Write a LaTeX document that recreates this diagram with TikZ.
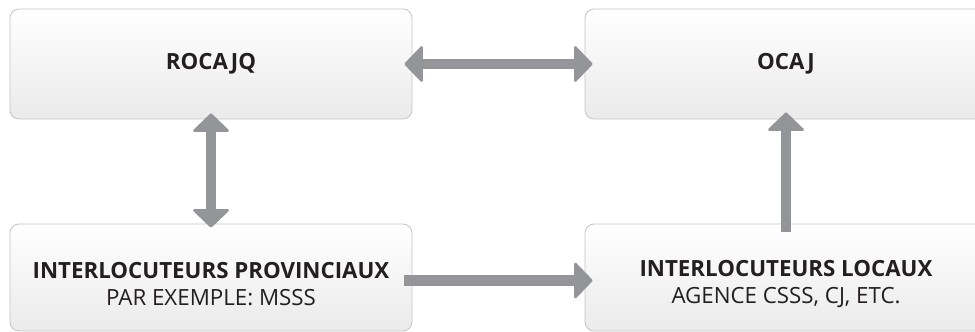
\documentclass[tikz,border=0pt]{standalone}
\usepackage{fontspec}
\setmainfont{Open Sans}
\usetikzlibrary{arrows.meta,positioning}
\definecolor{gris}{HTML}{939598}
\definecolor{contour}{HTML}{C4C4C6}
\definecolor{encre}{HTML}{231F20}
\tikzset{pointe/.tip={Triangle[width=39pt,length=19pt,line width=2.5pt,round]}}

\begin{document}
\begin{tikzpicture}[x=1pt,y=1pt,
  boite/.style={draw=contour,line width=0.8pt,rounded corners=9pt,top color=white,bottom color=black!8,minimum width=402pt,minimum height=110pt,inner sep=0pt},
  texte/.style={font=\fontsize{22.3}{27}\selectfont,text=encre,align=center},
  fleche/.style={draw=gris,line width=10.5pt,-pointe},
  ]
  \useasboundingbox (0,0) rectangle (975,332);
  % les quatre boites
  \draw (211,268) node[boite,texte] (rocajq) {\textbf{ROCAJQ}}
  (786,268) node[boite,texte] (ocaj) {\textbf{OCAJ}}
  (211,54.5) node[boite,minimum height=107pt] (provinciaux) {}
  (786,54.5) node[boite,minimum height=107pt] (locaux) {}
  ;
  \node[texte] (provtexte) at ([yshift=-7pt]provinciaux.center)
  {\textbf{INTERLOCUTEURS PROVINCIAUX}\\PAR EXEMPLE: MSSS};
  \node[texte] (loctexte) at ([yshift=-7pt]locaux.center)
  {\textbf{INTERLOCUTEURS LOCAUX}\\AGENCE CSSS, CJ, ETC.};
  % fleches
  \draw[fleche,pointe-pointe] ([xshift=-8pt]rocajq.east) -- ([xshift=8pt]ocaj.west);
  \draw[fleche,pointe-pointe] ([yshift=6pt]rocajq.south) -- ([yshift=-4pt]provinciaux.north);
  \draw[fleche] ([shift={(-8pt,-3pt)}]provinciaux.east) -- ([shift={(8pt,-3pt)}]locaux.west);
  \draw[fleche] ([yshift=-8pt]locaux.north) -- ([yshift=7pt]ocaj.south);
\end{tikzpicture}
\end{document}
